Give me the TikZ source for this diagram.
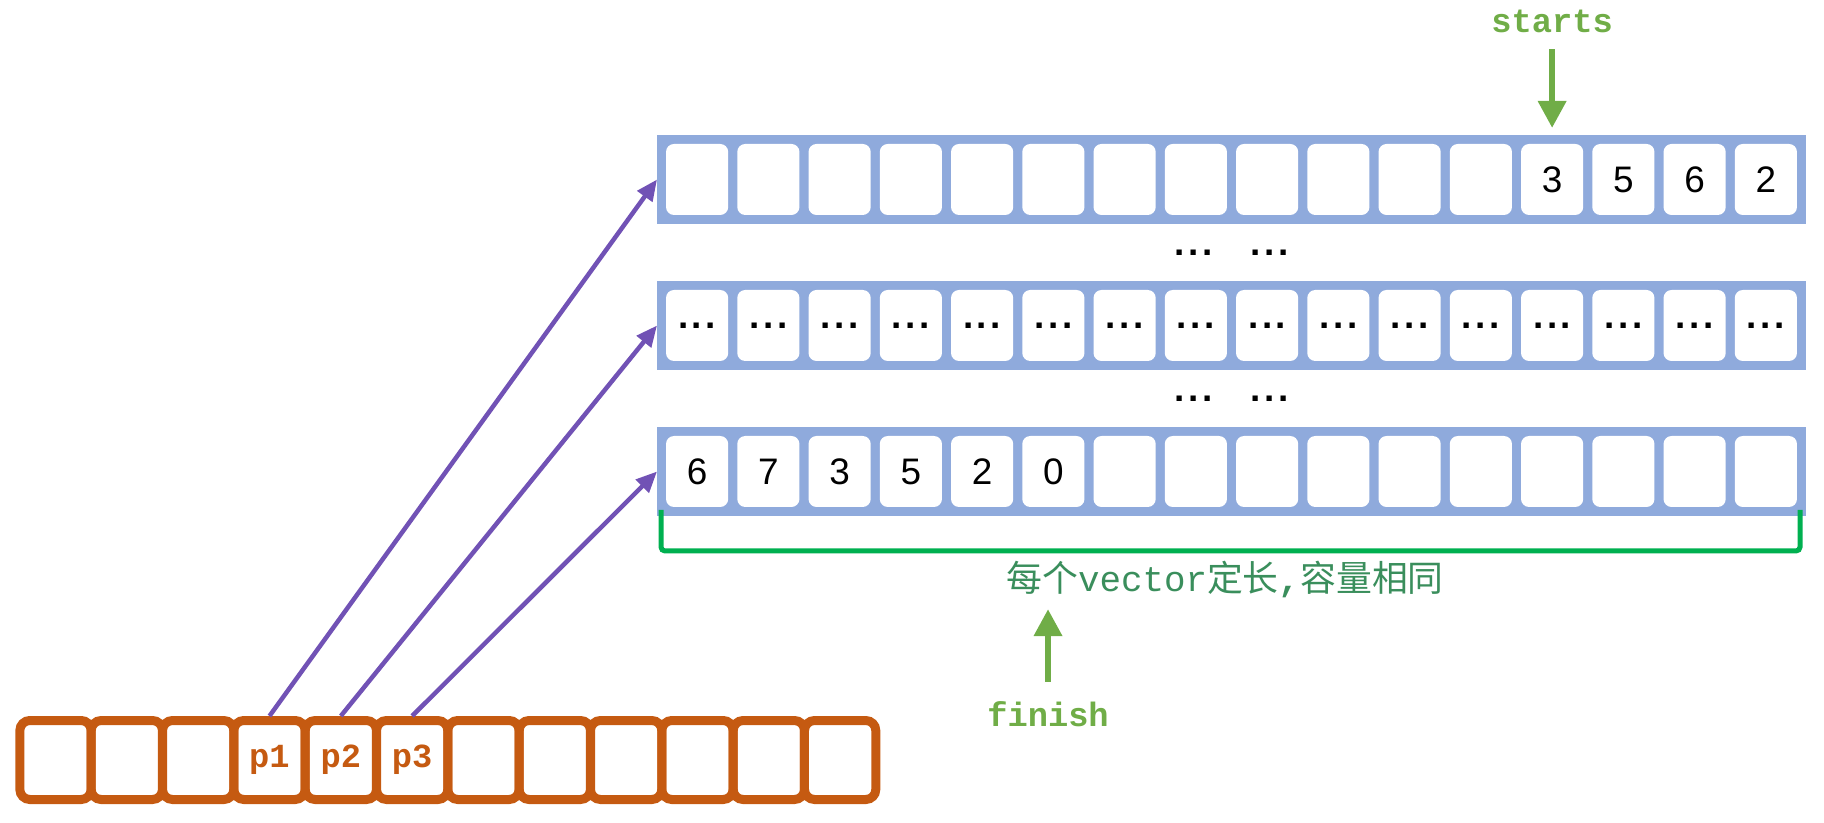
\documentclass[tikz,border=0pt]{standalone}
\usepackage{fontspec}
\setmainfont{Liberation Sans}
\setmonofont{Liberation Mono}
\newfontfamily\cjk{Noto Sans CJK SC}
\usetikzlibrary{arrows.meta, positioning}
\definecolor{cblue}{HTML}{8FAADC}
\definecolor{corange}{HTML}{C55A11}
\definecolor{cpurple}{HTML}{7152B5}
\definecolor{cgreen}{HTML}{70AD47}
\definecolor{cbrace}{HTML}{00B050}
\definecolor{cnote}{HTML}{3A8E5C}
\newcommand\gapdots{.\kern0.1em.\kern0.1em.}
\tikzset{
  strip/.style={fill=cblue, minimum width=114.9mm, minimum height=8.9mm, inner sep=0pt, outer sep=0pt},
  slot/.style={fill=white, rounded corners=0.8mm, minimum width=6.22mm, minimum height=7.1mm, inner sep=0pt, outer sep=0pt, font=\fontsize{10.5}{12}\selectfont},
  cell/.style={draw=corange, line width=0.9mm, rounded corners=1mm, minimum width=7.13mm, minimum height=7.9mm, inner sep=0pt, text=corange, font=\ttfamily\bfseries\fontsize{9.6}{11}\selectfont},
  ptr/.style={-{Triangle[length=2.1mm, width=1.8mm]}, draw=cpurple, line width=0.45mm},
  hint/.style={-{Triangle[length=2.7mm, width=2.7mm]}, draw=cgreen, line width=0.65mm},
  tag/.style={text=cgreen, inner sep=0pt, font=\ttfamily\bfseries\fontsize{9.6}{11}\selectfont},
  gap/.style={inner sep=0pt, font=\bfseries\fontsize{10.5}{12}\selectfont},
}
\begin{document}
\begin{tikzpicture}[x=0.1mm, y=-0.1mm]
  \useasboundingbox (0,0) rectangle (1824,823);
  \foreach \r/\y in {A/179.5, B/325.5, C/471.5} \node[strip] (row\r) at (1231.5, \y) {};
  \foreach \v [count=\k] in {{},{},{},{},{},{},{},{},{},{},{},{},3,5,6,2} \node[slot] (A\k) at (697.1+71.25*\k-71.25, 179.5) {\v};
  \foreach \k in {1,...,16} \node[slot, font=\bfseries\fontsize{10.5}{12}\selectfont] (B\k) at (697.1+71.25*\k-71.25, 325.5) {\gapdots};
  \foreach \v [count=\k] in {6,7,3,5,2,0,{},{},{},{},{},{},{},{},{},{}} \node[slot] (C\k) at (697.1+71.25*\k-71.25, 471.5) {\v};
  \node[gap] (gapAa) at (1194, 252.5) {\gapdots};
  \node[gap] (gapAb) at (1270, 252.5) {\gapdots};
  \node[gap] (gapBa) at (1194, 398.5) {\gapdots};
  \node[gap] (gapBb) at (1270, 398.5) {\gapdots};
  \draw[cbrace, line width=0.5mm, rounded corners=0.4mm] ([xshift=0.4mm, yshift=0.6mm]rowC.south west) -- ++(0,-4.1mm) -| ([xshift=-0.6mm, yshift=0.6mm]rowC.south east);
  \node[text=cnote, inner sep=0pt, font=\fontsize{10.2}{12}\selectfont] (note) at (1225, 579) {{\cjk 每个}{\ttfamily vector}{\cjk 定长}{\ttfamily\bfseries ,}{\cjk 容量相同}};
  \node[tag] (startlbl) at (1552, 21) {starts};
  \node[tag] (finishlbl) at (1048, 714) {finish};
  \draw[hint, shorten <=1.6mm, shorten >=1.6mm] (startlbl.south -| A13.north) -- (A13.north);
  \draw[hint, shorten <=1.9mm, shorten >=1.1mm] (finishlbl.north) -- (finishlbl.north |- note.south);
  \foreach \v [count=\k] in {{},{},{},p1,p2,p3,{},{},{},{},{},{}} \node[cell] (q\k) at (55.5+71.33*\k-71.33, 760) {\v};
  \draw[ptr] (q4.north) -- (rowA.west);
  \draw[ptr] (q5.north) -- (rowB.west);
  \draw[ptr] (q6.north) -- (rowC.west);
\end{tikzpicture}
\end{document}
